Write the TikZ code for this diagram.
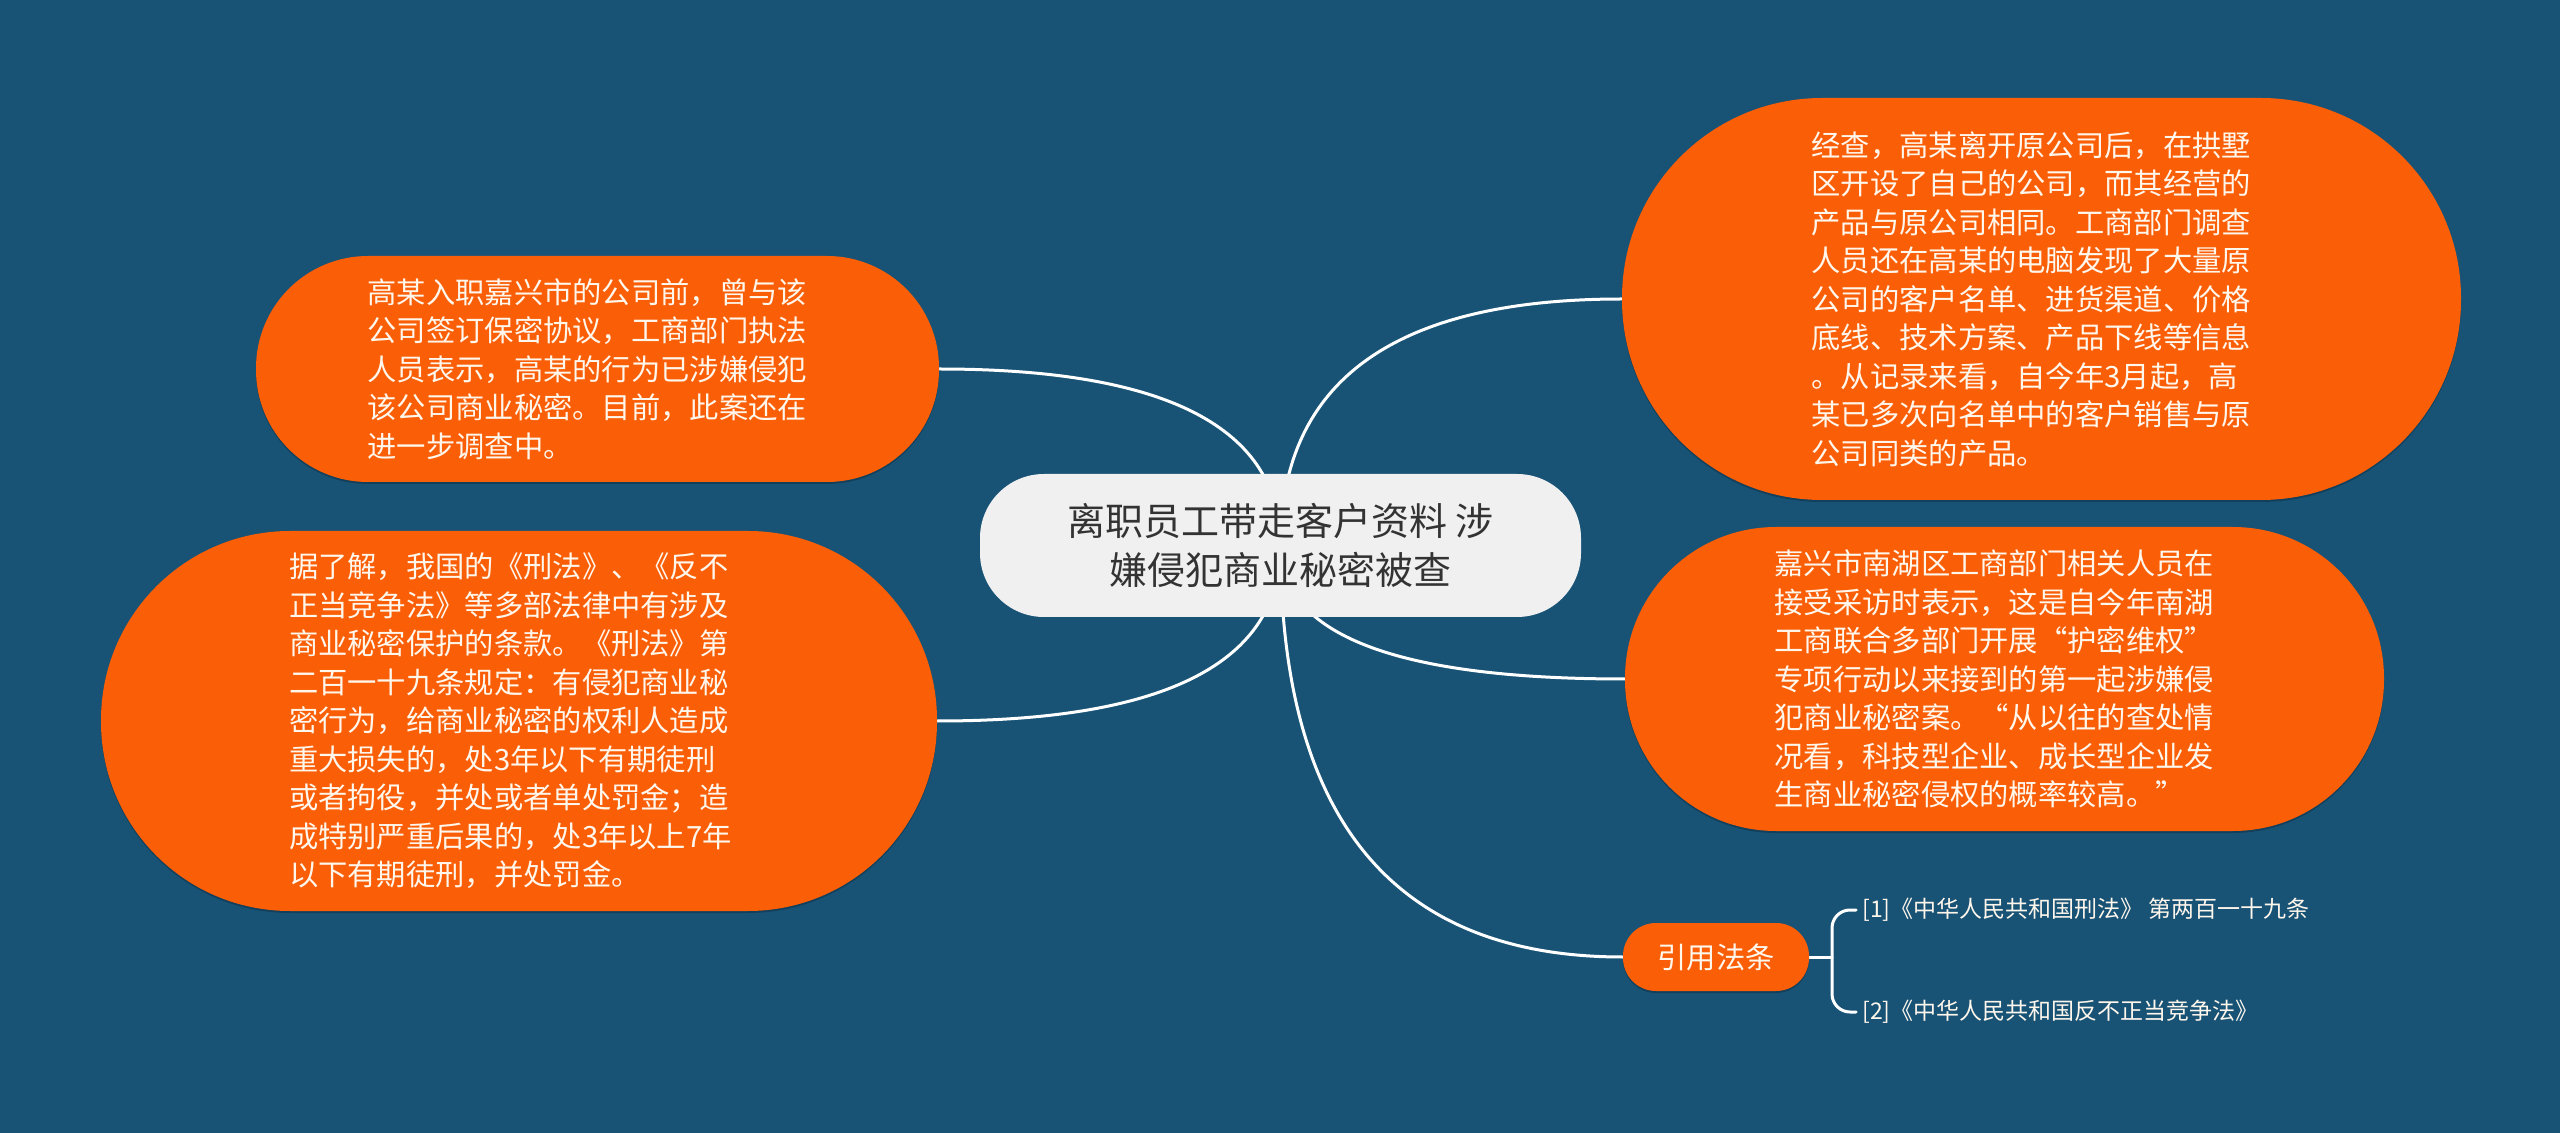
\documentclass[tikz,border=0pt]{standalone}
\usepackage{fontspec}
\setmainfont{Noto Sans CJK SC}
\usetikzlibrary{calc,backgrounds,shadows}
\definecolor{bgblue}{HTML}{185376}
\definecolor{mmorange}{HTML}{FA5E06}
\definecolor{rootfill}{HTML}{F0F0F0}
\definecolor{roottext}{HTML}{333333}
\definecolor{leaftext}{HTML}{FFF6EC}
\tikzset{
  orangebox/.style={fill=mmorange, draw=none, text=leaftext, align=left,
    inner sep=0pt,
    font=\fontsize{14.65pt}{19.25pt}\selectfont,
    drop shadow={shadow xshift=0pt, shadow yshift=-1pt, opacity=0.22, fill=black}},
  bodytext/.style={text width=230pt},
  rootbox/.style={fill=rootfill, draw=none, text=roottext, align=center,
    minimum width=300.5pt, minimum height=71.5pt, rounded corners=32pt,
    font=\fontsize{19pt}{24.5pt}\selectfont},
  reftext/.style={text=leaftext, anchor=west, inner sep=3pt,
    font=\fontsize{11.5pt}{14pt}\selectfont},
  conn/.style={draw=white, line width=1.5pt, line cap=round}
}
\newcommand{\mmlink}[2]{%
  \coordinate (k#1) at (root.center |- #1.#2);
  \draw[conn] (root.center) .. controls ($(root.center)!0.6667!(k#1)$) and ($(#1.#2)!0.6667!(k#1)$) .. (#1.#2);}
\begin{document}
\begin{tikzpicture}[x=0.5pt, y=-0.5pt]
\useasboundingbox (0,0) rectangle (2560,1133);

\node[rootbox] (root) at (1280.5,545.5) {离职员工带走客户资料 涉\\嫌侵犯商业秘密被查};

\node[orangebox, bodytext, minimum width=341.5pt, minimum height=113pt, rounded corners=56pt] (n1) at (597.5,369)
 {高某入职嘉兴市的公司前，曾与该\\公司签订保密协议，工商部门执法\\人员表示，高某的行为已涉嫌侵犯\\该公司商业秘密。目前，此案还在\\进一步调查中。};

\node[orangebox, bodytext, minimum width=418pt, minimum height=190pt, rounded corners=94.5pt] (n2) at (519,721)
 {据了解，我国的《刑法》、《反不\\正当竞争法》等多部法律中有涉及\\商业秘密保护的条款。《刑法》第\\二百一十九条规定：有侵犯商业秘\\密行为，给商业秘密的权利人造成\\重大损失的，处3年以下有期徒刑\\或者拘役，并处或者单处罚金；造\\成特别严重后果的，处3年以上7年\\以下有期徒刑，并处罚金。};

\node[orangebox, bodytext, minimum width=419.5pt, minimum height=201pt, rounded corners=100pt] (n3) at (2041.5,299)
 {经查，高某离开原公司后，在拱墅\\区开设了自己的公司，而其经营的\\产品与原公司相同。工商部门调查\\人员还在高某的电脑发现了大量原\\公司的客户名单、进货渠道、价格\\底线、技术方案、产品下线等信息\\。从记录来看，自今年3月起，高\\某已多次向名单中的客户销售与原\\公司同类的产品。};

\node[orangebox, bodytext, minimum width=379.5pt, minimum height=152pt, rounded corners=75.5pt] (n4) at (2004.5,679)
 {嘉兴市南湖区工商部门相关人员在\\接受采访时表示，这是自今年南湖\\工商联合多部门开展“护密维权”\\专项行动以来接到的第一起涉嫌侵\\犯商业秘密案。“从以往的查处情\\况看，科技型企业、成长型企业发\\生商业秘密侵权的概率较高。”};

\node[orangebox, align=center, minimum width=93pt, minimum height=34pt, rounded corners=16.5pt] (law) at (1716,957) {引用法条};

\node[reftext] (l1) at (1856,910) {[1]《中华人民共和国刑法》 第两百一十九条};
\node[reftext] (l2) at (1856,1012) {[2]《中华人民共和国反不正当竞争法》};
\coordinate (brk) at (1832,957);

\begin{scope}[on background layer]
  \fill[bgblue] (0,0) rectangle (2560,1133);
  \mmlink{n1}{east}
  \mmlink{n2}{east}
  \mmlink{n3}{west}
  \mmlink{n4}{west}
  \mmlink{law}{west}
  \draw[conn] (law.east) -- (brk);
  \draw[conn, rounded corners=9pt] (l1.west) -| (brk) |- (l2.west);
\end{scope}
\end{tikzpicture}
\end{document}
